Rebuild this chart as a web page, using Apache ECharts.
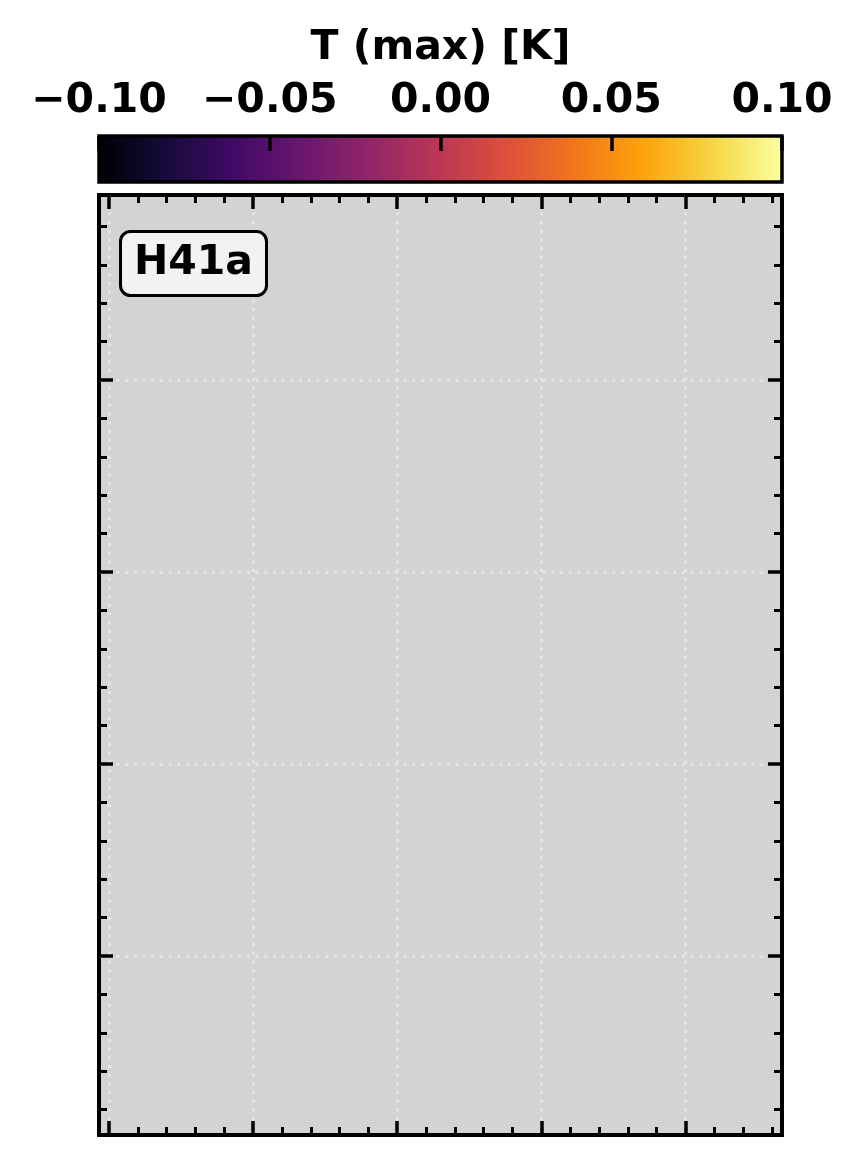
<!DOCTYPE html>
<html>
<head>
<meta charset="utf-8">
<script src="https://cdn.jsdelivr.net/npm/echarts@6/dist/echarts.min.js"></script>
<style>
html,body{margin:0;padding:0;background:#fff;}
#chart{width:863px;height:1166px;}
</style>
</head>
<body>
<div id="chart"></div>
<script>
// ---- data ----
const panelLabel = 'H41a';
const colorbarTitle = 'T (max) [K]';
const colorbarRange = [-0.10, 0.10];
const colorbarTicks = [-0.10, -0.05, 0.00, 0.05, 0.10];
const infernoStops = ['#000004', '#160b39', '#420a68', '#6a176e', '#932667', '#bc3754', '#dd513a', '#f37819', '#fca50a', '#f6d746', '#fcffa4'];
const xRange = [-0.347, 23.35];
const yRange = [0.34, 24.82];
const xMajorTicks = [0, 5, 10, 15, 20];
const xMinorTicks = [1, 2, 3, 4, 6, 7, 8, 9, 11, 12, 13, 14, 16, 17, 18, 19, 21, 22, 23];
const yMajorTicks = [5, 10, 15, 20];
const yMinorTicks = [1, 2, 3, 4, 6, 7, 8, 9, 11, 12, 13, 14, 16, 17, 18, 19, 21, 22, 23, 24];

const FONT = 'DejaVu Sans';
const chart = echarts.init(document.getElementById('chart'), null, {renderer: 'canvas'});

const gradient = new echarts.graphic.LinearGradient(0, 0, 1, 0,
  infernoStops.map((c, i) => ({offset: i / (infernoStops.length - 1), color: c})));

function mainAxis(kind, pos, ticks, major) {
  const a = {
    type: 'value', gridIndex: 1, position: pos,
    min: kind === 'x' ? xRange[0] : yRange[0],
    max: kind === 'x' ? xRange[1] : yRange[1],
    axisLine: {show: false, onZero: false},
    axisLabel: {show: false, customValues: ticks},
    axisTick: {show: true, inside: true, customValues: ticks, length: major ? 14 : 8,
      lineStyle: {color: '#000', width: major ? 3.5 : 3}},
    splitLine: {show: false},
    z: 5
  };
  if (major && (pos === 'bottom' || pos === 'left')) {
    a.splitLine = {show: true, lineStyle: {color: '#e8e8e8', width: 2.5, type: [3, 5.7]}};
  }
  return a;
}

const option = {
  animation: false,
  backgroundColor: '#ffffff',
  title: {
    text: panelLabel,
    left: 120, top: 231,
    padding: [12, 14, 12, 14],
    backgroundColor: '#f2f2f2',
    borderColor: '#000', borderWidth: 3, borderRadius: 10,
    textStyle: {fontFamily: FONT, fontWeight: 'bold', fontSize: 41, color: '#000'}
  },
  grid: [
    {left: 99, top: 136, width: 683, height: 46, outerBoundsMode: 'none', containLabel: false},
    {left: 99, top: 195, width: 683, height: 940, outerBoundsMode: 'none', containLabel: false,
      show: true, backgroundColor: '#d3d3d3', borderColor: '#000', borderWidth: 4}
  ],
  xAxis: [
    {
      type: 'value', gridIndex: 0, position: 'top',
      min: colorbarRange[0], max: colorbarRange[1], interval: 0.05,
      name: colorbarTitle, nameLocation: 'middle', nameGap: 67,
      nameTextStyle: {fontFamily: FONT, fontWeight: 'bold', fontSize: 41, color: '#000'},
      axisLine: {show: false, onZero: false},
      axisTick: {show: true, inside: true, length: 15, customValues: colorbarTicks,
        lineStyle: {color: '#000', width: 3.5}},
      axisLabel: {show: true, margin: 14, customValues: colorbarTicks,
        fontFamily: FONT, fontWeight: 'bold', fontSize: 41, color: '#000',
        showMinLabel: true, showMaxLabel: true,
        formatter: v => (v < 0 ? '\u2212' : '') + Math.abs(v).toFixed(2)},
      splitLine: {show: false},
      z: 10
    },
    mainAxis('x', 'bottom', xMajorTicks, true),
    mainAxis('x', 'bottom', xMinorTicks, false),
    mainAxis('x', 'top', xMajorTicks, true),
    mainAxis('x', 'top', xMinorTicks, false)
  ],
  yAxis: [
    {type: 'value', gridIndex: 0, min: 0, max: 1, show: false},
    mainAxis('y', 'left', yMajorTicks, true),
    mainAxis('y', 'left', yMinorTicks, false),
    mainAxis('y', 'right', yMajorTicks, true),
    mainAxis('y', 'right', yMinorTicks, false)
  ],
  series: [
    {
      type: 'custom',
      xAxisIndex: 0, yAxisIndex: 0,
      data: [[colorbarRange[0], colorbarRange[1]]],
      z: 2,
      renderItem: function (params, api) {
        const p0 = api.coord([api.value(0), 1]);
        const p1 = api.coord([api.value(1), 0]);
        return {
          type: 'rect',
          shape: {x: p0[0], y: p0[1], width: p1[0] - p0[0], height: p1[1] - p0[1]},
          style: {fill: gradient, stroke: '#000', lineWidth: 3.5}
        };
      }
    }
  ]
};
chart.setOption(option);
</script>
</body>
</html>
